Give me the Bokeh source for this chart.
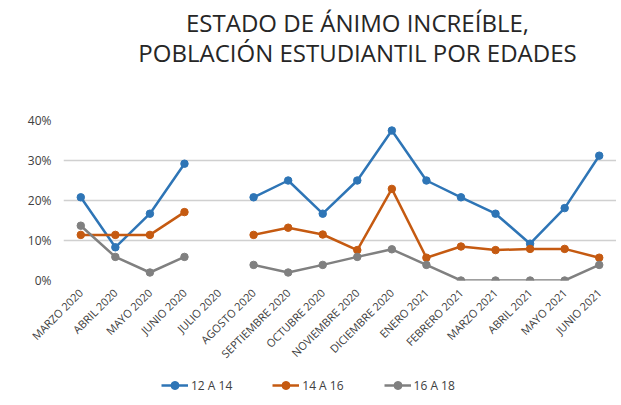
import math
from bokeh.plotting import figure
from bokeh.layouts import column
from bokeh.models import (ColumnDataSource, FactorRange, Range1d, Legend, LegendItem,
                          Label, PrintfTickFormatter, FixedTicker)
from bokeh.embed import file_html
from bokeh.resources import INLINE

nan = float("nan")
months = ["MARZO 2020", "ABRIL 2020", "MAYO 2020", "JUNIO 2020", "JULIO 2020",
          "AGOSTO 2020", "SEPTIEMBRE 2020", "OCTUBRE 2020", "NOVIEMBRE 2020",
          "DICIEMBRE 2020", "ENERO 2021", "FEBRERO 2021", "MARZO 2021",
          "ABRIL 2021", "MAYO 2021", "JUNIO 2021"]
s12_14 = [20.8, 8.3, 16.7, 29.2, nan, 20.8, 25.0, 16.7, 25.0, 37.5, 25.0, 20.8, 16.7, 9.2, 18.1, 31.2]
s14_16 = [11.4, 11.4, 11.4, 17.1, nan, 11.4, 13.2, 11.5, 7.6, 22.9, 5.7, 8.5, 7.6, 7.9, 7.9, 5.7]
s16_18 = [13.7, 5.9, 2.0, 5.9, nan, 3.9, 2.0, 3.9, 5.9, 7.8, 3.9, 0.0, 0.0, 0.0, 0.0, 3.9]
series_names = ["12 A 14", "14 A 16", "16 A 18"]
colors = ["#2E75B6", "#C55A11", "#808080"]
y_ticks = [0, 10, 20, 30, 40]
title_lines = ["ESTADO DE ÁNIMO INCREÍBLE,", "POBLACIÓN ESTUDIANTIL POR EDADES"]

FONT = "Open Sans"
W = 616


def bare(fig):
    fig.outline_line_color = None
    fig.xgrid.grid_line_color = None
    fig.ygrid.grid_line_color = None
    fig.background_fill_color = "white"
    fig.border_fill_color = "white"


# ---- title strip (its frame is aligned with the main frame by the column layout) ----
tf = figure(width=W, height=68, output_backend="svg", toolbar_location=None,
            x_axis_location=None, y_axis_location=None,
            x_range=Range1d(0, 1), y_range=Range1d(0, 1),
            min_border_left=0, min_border_right=0, min_border_top=0, min_border_bottom=0)
bare(tf)
for txt, yy in zip(title_lines, [46, 16]):
    tf.add_layout(Label(x=294, y=yy, x_units="screen", y_units="screen", text=txt,
                        text_align="center", text_baseline="middle",
                        text_font=FONT, text_font_size="24px", text_color="#262626"))

# ---- main chart ----
p = figure(width=W, height=301, x_range=FactorRange(*months), y_range=Range1d(0, 40),
           output_backend="svg", toolbar_location=None,
           min_border_left=63, min_border_right=0, min_border_top=52, min_border_bottom=86)
p.outline_line_color = None
p.background_fill_color = "white"
p.border_fill_color = "white"

for name, vals, c in zip(series_names, [s12_14, s14_16, s16_18], colors):
    src = ColumnDataSource(dict(x=months, y=vals))
    p.line("x", "y", source=src, line_color=c, line_width=2.5)
    p.scatter("x", "y", source=src, size=7.5, fill_color=c, line_color=c)

p.yaxis.ticker = FixedTicker(ticks=y_ticks)
p.yaxis.formatter = PrintfTickFormatter(format="%d%%")
p.yaxis.axis_line_color = None
p.yaxis.major_tick_line_color = None
p.yaxis.minor_tick_line_color = None
p.yaxis.major_label_text_font = FONT
p.yaxis.major_label_text_font_size = "12px"
p.yaxis.major_label_text_color = "#404040"
p.yaxis.major_label_standoff = 6

p.xaxis.axis_line_color = None
p.xaxis.major_tick_line_color = None
p.xaxis.major_label_orientation = math.pi / 4
p.xaxis.major_label_text_font = FONT
p.xaxis.major_label_text_font_size = "11px"
p.xaxis.major_label_text_color = "#404040"
p.xaxis.major_label_standoff = 4

p.xgrid.grid_line_color = None
p.ygrid.grid_line_color = "#D0D0D0"
p.ygrid.grid_line_width = 1.5

# ---- legend strip (swatch renderers hold a single NaN point: nothing drawn) ----
lf = figure(width=W, height=26, output_backend="svg", toolbar_location=None,
            x_axis_location=None, y_axis_location=None,
            x_range=Range1d(0, 1), y_range=Range1d(0, 1),
            min_border_left=0, min_border_right=0, min_border_top=0, min_border_bottom=0)
bare(lf)
items = []
for name, c in zip(series_names, colors):
    sw = ColumnDataSource(dict(x=[nan], y=[nan]))
    l = lf.line("x", "y", source=sw, line_color=c, line_width=2.5)
    s = lf.scatter("x", "y", source=sw, size=7.5, fill_color=c, line_color=c)
    items.append(LegendItem(label=name, renderers=[l, s]))
legend = Legend(items=items, orientation="horizontal", location=(98, 0),
                label_text_font=FONT, label_text_font_size="12px",
                label_text_color="#404040", glyph_width=27, label_standoff=3,
                spacing=40, padding=3, border_line_color=None, background_fill_alpha=0)
lf.add_layout(legend)

open("out.html", "w").write(file_html(column(tf, p, lf, spacing=0), INLINE))
